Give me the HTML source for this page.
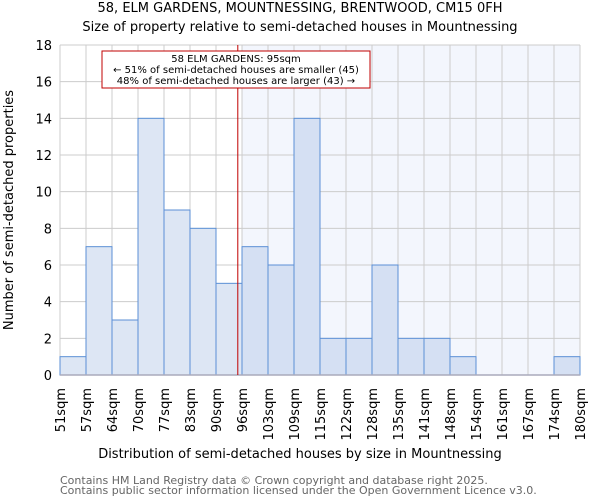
<!DOCTYPE html>
<html><head><meta charset="utf-8"><style>
body{margin:0;background:#fff}
svg{display:block;font-family:"DejaVu Sans","Liberation Sans",sans-serif}
</style></head><body>
<svg id="c" width="600" height="500" viewBox="0 0 600 500">
<text x="300" y="12" text-anchor="middle" font-size="13">58, ELM GARDENS, MOUNTNESSING, BRENTWOOD, CM15 0FH</text>
<text x="300" y="31" text-anchor="middle" font-size="13">Size of property relative to semi-detached houses in Mountnessing</text>
<g id="grid"></g><g id="bars"></g><g id="axes"></g>
<text x="300" y="458" text-anchor="middle" font-size="13">Distribution of semi-detached houses by size in Mountnessing</text>
<text transform="translate(13,210) rotate(-90)" text-anchor="middle" font-size="13">Number of semi-detached properties</text>
<text x="60" y="484" font-size="11" fill="#666">Contains HM Land Registry data © Crown copyright and database right 2025.</text>
<text x="60" y="494" font-size="11" fill="#666">Contains public sector information licensed under the Open Government Licence v3.0.</text>
</svg>
<script>
const tickLabels=["51sqm","57sqm","64sqm","70sqm","77sqm","83sqm","90sqm","96sqm","103sqm","109sqm","115sqm","122sqm","128sqm","135sqm","141sqm","148sqm","154sqm","161sqm","167sqm","174sqm","180sqm"];
const counts=[1,7,3,14,9,8,5,7,6,14,2,2,6,2,2,1,0,0,0,1];
const yTicks=[0,2,4,6,8,10,12,14,16,18];
const markerBin=6.8;
const highlightFrom=7;
const NS="http://www.w3.org/2000/svg";
const L=60,R=580,T=45,B=375,yMax=18;
const bw=(R-L)/counts.length;
const xs=i=>L+i*bw, ys=v=>B-v/yMax*(B-T);
function mk(t,a,p){const e=document.createElementNS(NS,t);for(const k in a)e.setAttribute(k,a[k]);p.appendChild(e);return e;}
const g=document.getElementById('grid'),b=document.getElementById('bars'),ax=document.getElementById('axes');
let bg=mk('rect',{x:xs(highlightFrom),y:T,width:R-xs(highlightFrom),height:B-T,fill:'#f3f6fd'},g);


yTicks.forEach(v=>{
 let l=mk('line',{x1:L,x2:R,y1:ys(v),y2:ys(v),stroke:'#cccccc'},g);
 
 
 let t=mk('text',{x:L-8,y:ys(v)+5,'text-anchor':'end','font-size':13},ax);t.textContent=v;
 
 
});
tickLabels.forEach((s,i)=>{
 let l=mk('line',{x1:xs(i),x2:xs(i),y1:T,y2:B,stroke:'#cccccc'},g);
 
 
 let t=mk('text',{transform:`translate(${xs(i)+5},388) rotate(-90)`,'text-anchor':'end','font-size':13},ax);t.textContent=s;
 
 
});
counts.forEach((v,i)=>{
 if(v<=0)return;
 let r=mk('rect',{x:xs(i),y:ys(v),width:bw,height:ys(0)-ys(v),fill:i>=highlightFrom?'#d5e0f3':'#dde6f4',stroke:'#5b8fd6','stroke-width':1},b);
 
 
});
let base=mk('line',{x1:L,x2:R,y1:B,y2:B,stroke:'#aab',"stroke-width":1.5},ax);


const mx=xs(markerBin)+1;
let ml=mk('line',{x1:mx,x2:mx,y1:T,y2:B,stroke:'#c00000','stroke-width':1},ax);


let box=mk('rect',{x:102,y:51,width:268,height:37,fill:'#fff',stroke:'#c00000','stroke-width':1},ax);


["58 ELM GARDENS: 95sqm","← 51% of semi-detached houses are smaller (45)","48% of semi-detached houses are larger (43) →"].forEach((s,i)=>{
 let t=mk('text',{x:236,y:62+i*11,'text-anchor':'middle','font-size':10},ax);t.textContent=s;
 
 
});
</script>
</body></html>
